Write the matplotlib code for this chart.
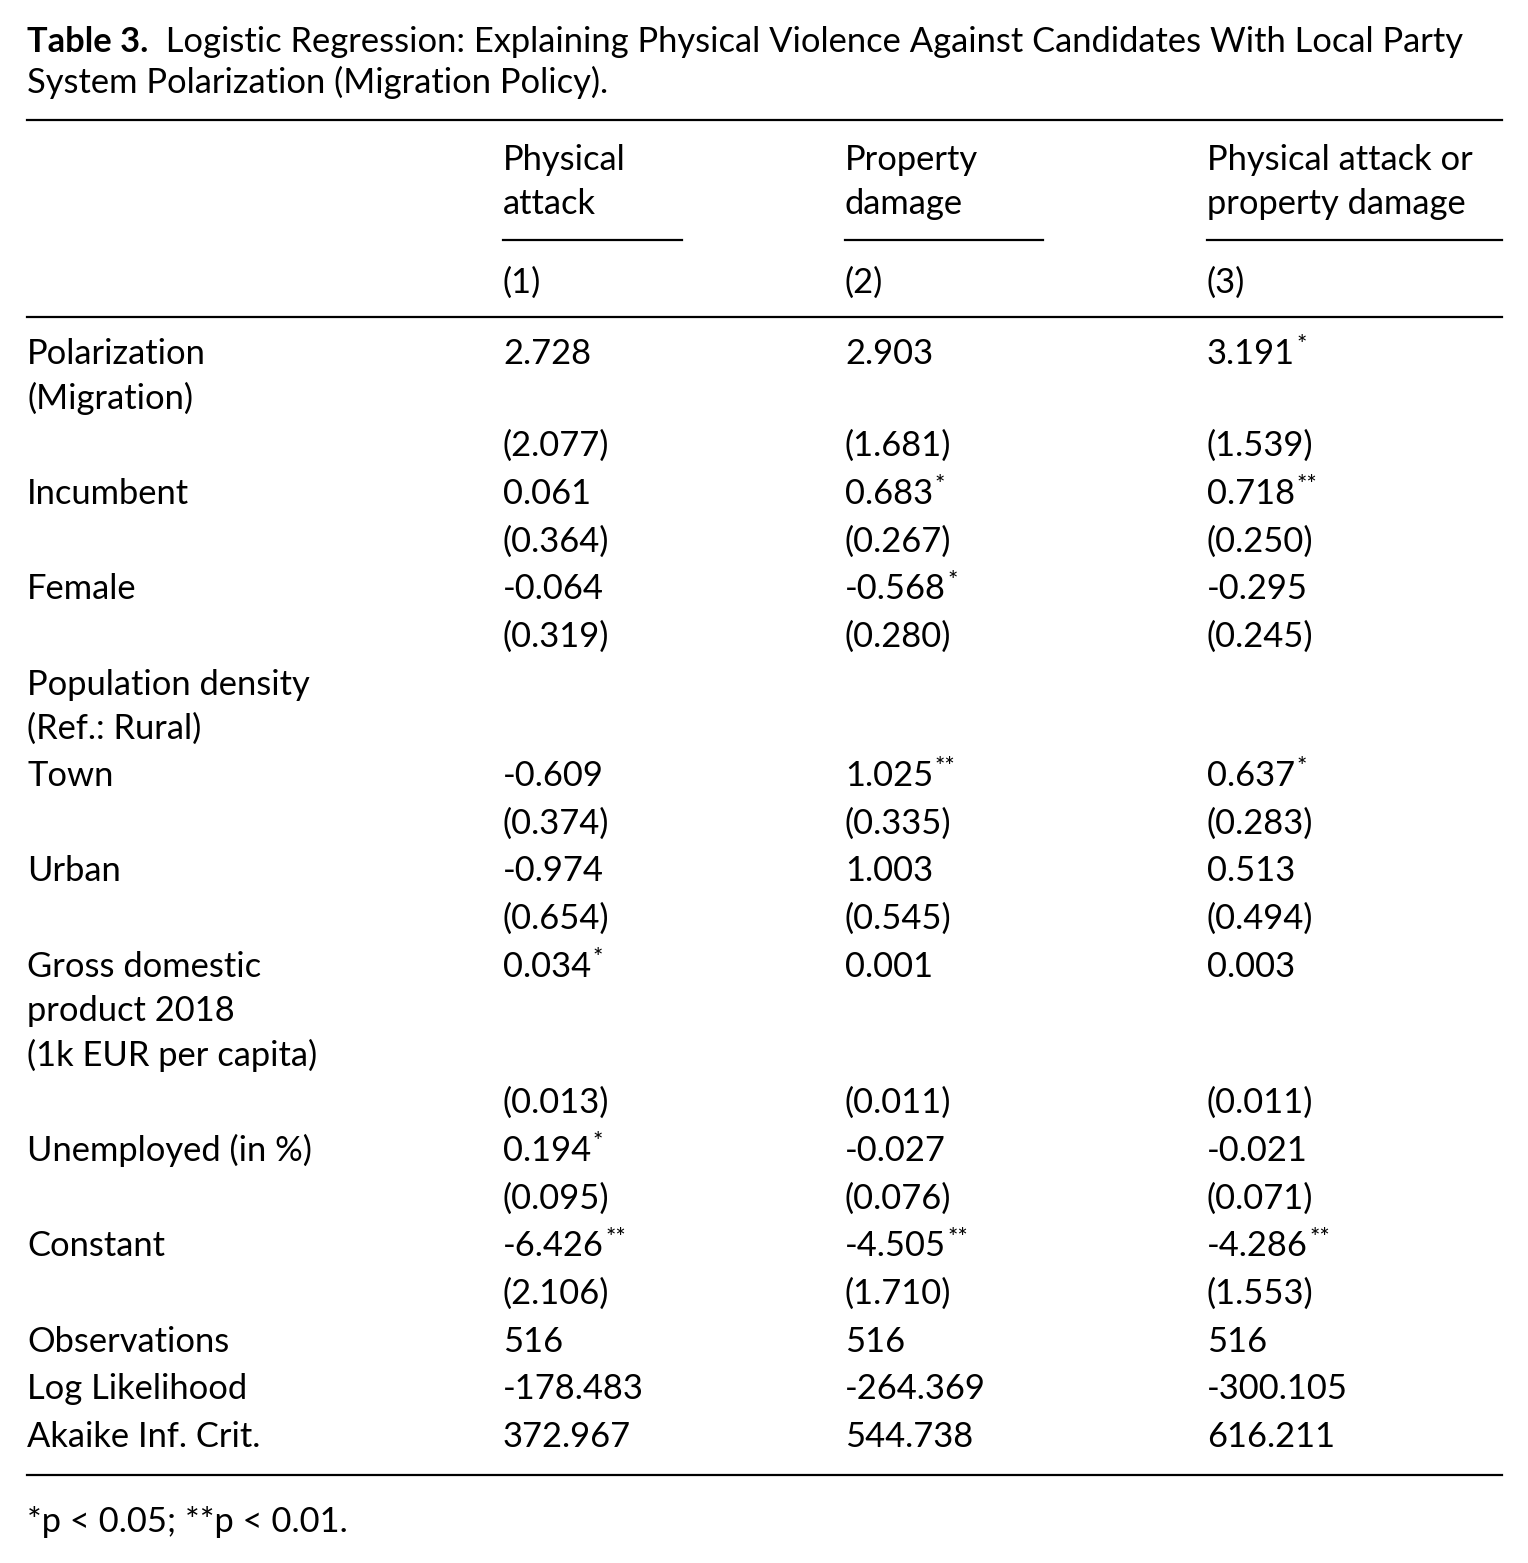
import matplotlib
matplotlib.use("Agg")
import matplotlib.pyplot as plt
from matplotlib.lines import Line2D

plt.rcParams['font.family'] = ['Lato', 'DejaVu Sans']

W, H = 1528, 1563
FS = 24.8

title_bold = "Table 3."
title_rest = "  Logistic Regression: Explaining Physical Violence Against Candidates With Local Party"
title_line2 = "System Polarization (Migration Policy)."

headers = [["Physical", "attack"], ["Property", "damage"], ["Physical attack or", "property damage"]]
model_nums = ["(1)", "(2)", "(3)"]

# (label lines, coefs, stars, ses)
variables = [
    (["Polarization", "(Migration)"], ["2.728", "2.903", "3.191"], ["", "", "*"], ["(2.077)", "(1.681)", "(1.539)"]),
    (["Incumbent"], ["0.061", "0.683", "0.718"], ["", "*", "**"], ["(0.364)", "(0.267)", "(0.250)"]),
    (["Female"], ["-0.064", "-0.568", "-0.295"], ["", "*", ""], ["(0.319)", "(0.280)", "(0.245)"]),
    (["Population density", "(Ref.: Rural)"], None, None, None),
    (["Town"], ["-0.609", "1.025", "0.637"], ["", "**", "*"], ["(0.374)", "(0.335)", "(0.283)"]),
    (["Urban"], ["-0.974", "1.003", "0.513"], ["", "", ""], ["(0.654)", "(0.545)", "(0.494)"]),
    (["Gross domestic", "product 2018", "(1k EUR per capita)"], ["0.034", "0.001", "0.003"], ["*", "", ""], ["(0.013)", "(0.011)", "(0.011)"]),
    (["Unemployed (in %)"], ["0.194", "-0.027", "-0.021"], ["*", "", ""], ["(0.095)", "(0.076)", "(0.071)"]),
    (["Constant"], ["-6.426", "-4.505", "-4.286"], ["**", "**", "**"], ["(2.106)", "(1.710)", "(1.553)"]),
]
stats = [
    ("Observations", ["516", "516", "516"]),
    ("Log Likelihood", ["-178.483", "-264.369", "-300.105"]),
    ("Akaike Inf. Crit.", ["372.967", "544.738", "616.211"]),
]
footnote = "*p < 0.05; **p < 0.01."

fig = plt.figure(figsize=(W / 100, H / 100), dpi=100)
fig.patch.set_facecolor("white")
renderer = fig.canvas.get_renderer()

def txt(x, y, s, **kw):
    kw.setdefault("fontsize", FS)
    return fig.text(x / W, 1 - y / H, s, va="center", ha="left", **kw)

def hline(x0, x1, y, lw=1.6):
    fig.add_artist(Line2D([x0 / W, x1 / W], [1 - y / H, 1 - y / H], color="black", lw=lw))

def with_star(x, y, s, star):
    t = txt(x, y, s)
    if star:
        bb = t.get_window_extent(renderer)
        fig.text(bb.x1 / W + 0.001, 1 - (y - 9) / H, star, fontsize=FS * 0.7, va="center", ha="left")

# title
t = txt(27, 42, title_bold, fontweight="bold")
bb = t.get_window_extent(renderer)
txt(bb.x1, 42, title_rest)
txt(27, 82, title_line2)

hline(27, 1502, 120)
colx = [503, 845, 1207]
for i, hd in enumerate(headers):
    txt(colx[i], 160, hd[0])
    txt(colx[i], 204, hd[1])
    txt(colx[i], 283, model_nums[i])
hline(503, 682, 240)
hline(845, 1043, 240)
hline(1207, 1502, 240)
hline(27, 1502, 317)

y = 354
step = 47.7
for labels, coefs, stars, ses in variables:
    for j, lab in enumerate(labels):
        txt(27, y + j * 44.5, lab)
    if coefs is None:
        y += 44.5 * len(labels) + 2
        continue
    for i in range(3):
        with_star(colx[i], y, coefs[i], stars[i])
    y += 44.5 * (len(labels) - 1) + step if len(labels) > 1 else step
    for i in range(3):
        txt(colx[i], y, ses[i])
    y += step

for lab, vals in stats:
    txt(27, y, lab)
    for i in range(3):
        txt(colx[i], y, vals[i])
    y += step

hline(27, 1502, 1475)
txt(27, 1522, footnote)

fig.savefig("out.png", dpi=100)
